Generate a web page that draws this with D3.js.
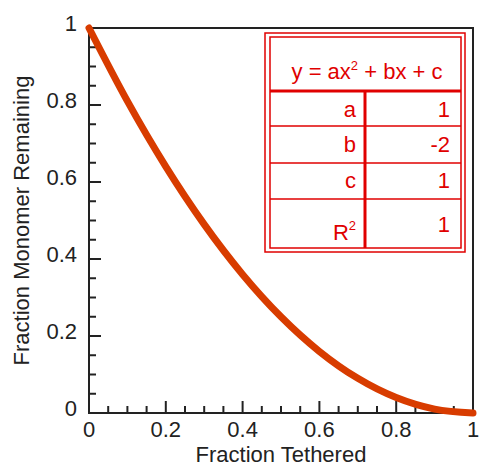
<!DOCTYPE html>
<html>
<head>
<meta charset="utf-8"/>
<script src="https://cdn.jsdelivr.net/npm/d3@7"></script>
<style>
body { margin: 0; background: #fff; }
text { font-family: "Liberation Sans", Arial, sans-serif; }
</style>
</head>
<body>
<svg width="479" height="468"></svg>
<script>
// values
var fracTethered = [0, 0.1, 0.2, 0.3, 0.4, 0.5, 0.6, 0.7, 0.8, 0.9, 1];
var fracRemaining = [1, 0.81, 0.64, 0.49, 0.36, 0.25, 0.16, 0.09, 0.04, 0.01, 0];
var tickLabels = [0, 0.2, 0.4, 0.6, 0.8, 1];
var fitNames = ["a", "b", "c", "R"];
var fitValues = ["1", "-2", "1", "1"];

var svg = d3.select("svg"),
    margin = {left: 89, right: 6, top: 28, bottom: 55},
    width = 479 - margin.left - margin.right,
    height = 468 - margin.top - margin.bottom,
    g = svg.append("g").attr("transform", "translate(" + margin.left + "," + margin.top + ")");

var x = d3.scaleLinear().domain([0, 1]).range([0, width]);
var y = d3.scaleLinear().domain([0, 1]).range([height, 0]);

var ink = "#222";
var fs = 22;
var minor = d3.range(0, 1.0001, 0.05);

// minor + major ticks, pointing inward
g.selectAll(".xt").data(minor).enter().append("line")
    .attr("x1", function(d) { return x(d); }).attr("x2", function(d) { return x(d); })
    .attr("y1", height)
    .attr("y2", function(d, i) { return height - (i % 4 == 0 ? 12 : 7); })
    .attr("stroke", ink).attr("stroke-width", 2);
g.selectAll(".yt").data(minor).enter().append("line")
    .attr("y1", function(d) { return y(d); }).attr("y2", function(d) { return y(d); })
    .attr("x1", 0)
    .attr("x2", function(d, i) { return i % 4 == 0 ? 12 : 7; })
    .attr("stroke", ink).attr("stroke-width", 2);

// frame
g.append("rect").attr("width", width).attr("height", height)
    .attr("fill", "none").attr("stroke", ink).attr("stroke-width", 2);

g.selectAll(".xl").data(tickLabels).enter().append("text")
    .attr("x", function(d) { return x(d); }).attr("y", height + 24)
    .attr("text-anchor", "middle").attr("font-size", fs).attr("fill", ink)
    .text(function(d) { return d; });
g.selectAll(".yl").data(tickLabels).enter().append("text")
    .attr("x", -12).attr("y", function(d) { return y(d) + 3; })
    .attr("text-anchor", "end").attr("font-size", fs).attr("fill", ink)
    .text(function(d) { return d; });

svg.append("text").attr("x", margin.left + width / 2).attr("y", 462)
    .attr("text-anchor", "middle").attr("font-size", fs).attr("fill", ink)
    .text("Fraction Tethered");
svg.append("text").attr("transform", "translate(29," + (margin.top + height / 2) + ") rotate(-90)")
    .attr("text-anchor", "middle").attr("font-size", fs).attr("fill", ink)
    .text("Fraction Monomer Remaining");

// the curve
var line = d3.line()
    .x(function(d) { return x(d[0]); })
    .y(function(d) { return y(d[1]); })
    .curve(d3.curveMonotoneX);
g.append("path").datum(d3.zip(fracTethered, fracRemaining))
    .attr("d", line)
    .attr("fill", "none").attr("stroke", "#d83c00").attr("stroke-width", 7)
    .attr("stroke-linecap", "round");

// fit table
var red = "#e00000";
var t = svg.append("g");
t.append("rect").attr("x", 265).attr("y", 33).attr("width", 200).attr("height", 219)
    .attr("fill", "#fff").attr("stroke", red).attr("stroke-width", 1.5);
t.append("rect").attr("x", 270).attr("y", 37).attr("width", 191).attr("height", 211)
    .attr("fill", "none").attr("stroke", red).attr("stroke-width", 1.5);
t.append("line").attr("x1", 270).attr("x2", 461).attr("y1", 91).attr("y2", 91)
    .attr("stroke", red).attr("stroke-width", 3);
t.append("line").attr("x1", 365).attr("x2", 365).attr("y1", 91).attr("y2", 248)
    .attr("stroke", red).attr("stroke-width", 3);
var rowLines = [126, 163, 199];
t.selectAll(".rl").data(rowLines).enter().append("line")
    .attr("x1", 270).attr("x2", 461)
    .attr("y1", function(d) { return d; }).attr("y2", function(d) { return d; })
    .attr("stroke", red).attr("stroke-width", 1.5);

var hdr = t.append("text").attr("x", 367).attr("y", 79).attr("text-anchor", "middle")
    .attr("font-size", fs).attr("fill", red);
hdr.append("tspan").text("y = ax");
hdr.append("tspan").attr("font-size", 13).attr("dy", -9).text("2");
hdr.append("tspan").attr("dy", 9).text(" + bx + c");

var baselines = [117, 152, 188, 240];
fitNames.forEach(function(n, i) {
  var tx = t.append("text").attr("x", 356).attr("y", baselines[i])
      .attr("text-anchor", "end").attr("font-size", fs).attr("fill", red);
  tx.append("tspan").text(n);
  if (n == "R") tx.append("tspan").attr("font-size", 13).attr("dy", -10).text("2");
  t.append("text").attr("x", 450).attr("y", i == 3 ? 232 : baselines[i])
      .attr("text-anchor", "end").attr("font-size", fs).attr("fill", red)
      .text(fitValues[i]);
});
</script>
</body>
</html>
